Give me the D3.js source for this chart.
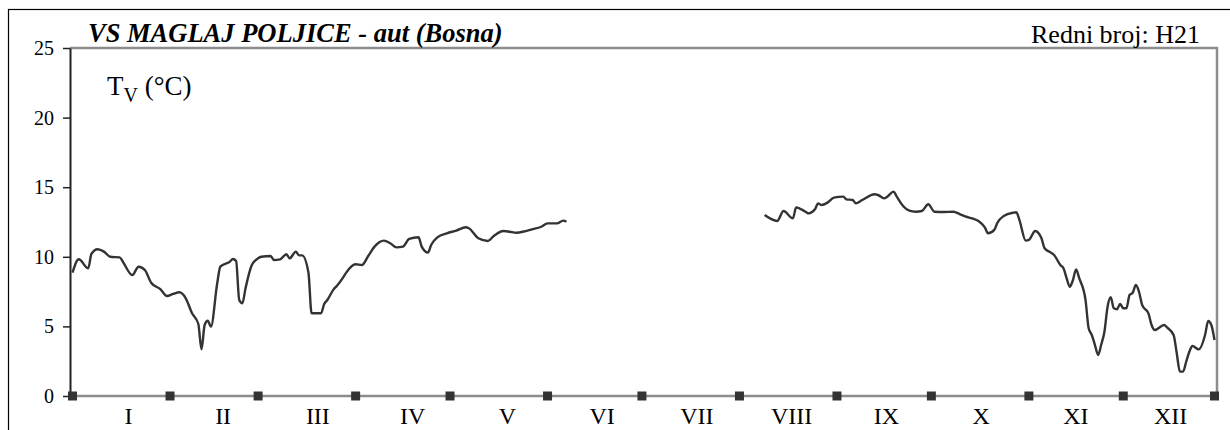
<!DOCTYPE html>
<html>
<head>
<meta charset="utf-8">
<script src="https://cdn.jsdelivr.net/npm/d3@7"></script>
<style>
  html, body { margin: 0; padding: 0; background: #fff; }
  svg { display: block; }
  text { font-family: "Liberation Serif", "Times New Roman", serif; fill: #000; }
</style>
</head>
<body>
<svg id="chart" width="1230" height="430"></svg>
<script>
// ---- data ----
const monthLabels = ["I","II","III","IV","V","VI","VII","VIII","IX","X","XI","XII"];
const monthStarts = [0, 31, 59, 90, 120, 151, 181, 212, 243, 273, 304, 334];
const axisEndDay = 363;
const yTicks = [0, 5, 10, 15, 20, 25];

// day of year (0 = 1 Jan) and mean daily water temperature (°C)
const springDays = [0,2,5,6,8,10,12,15,16,19,21,23,25,28,30,32,34,36,38,40,41,42,43,44,46,47,50,51,52,53,54,55,57,59,60,63,64,66,68,69,71,72,73,75,76,79,80,81,83,84,86,87,90,92,94,96,99,101,103,105,107,110,111,113,114,116,119,122,125,126,129,132,134,137,139,141,144,146,149,151,154,156,157];
const springTemps = [8.86,9.82,9.17,10.2,10.54,10.37,10.0,9.96,9.65,8.69,9.29,9.05,8.14,7.66,7.18,7.33,7.45,7.02,5.94,5.17,3.35,5.1,5.41,4.98,8.1,9.29,9.65,9.84,9.7,6.9,6.66,7.74,9.41,9.89,10.0,10.06,9.77,9.82,10.18,9.89,10.37,10.1,10.1,8.86,5.94,5.94,6.61,6.9,7.66,7.9,8.5,8.86,9.46,9.41,10.06,10.73,11.16,10.97,10.68,10.73,11.28,11.4,10.73,10.3,10.85,11.4,11.69,11.88,12.12,12.05,11.33,11.14,11.52,11.85,11.8,11.73,11.85,11.97,12.16,12.4,12.4,12.6,12.52];

const autumnDays = [220,222,224,226,229,230,233,234,236,237,238,240,242,245,246,248,249,251,255,256,258,259,261,262,264,266,268,270,272,274,277,280,282,284,286,288,290,291,293,294,296,299,300,301,303,304,306,308,309,311,312,314,315,316,317,318,319,320,322,323,324,325,326,327,328,329,330,331,332,333,334,335,336,337,338,339,340,342,343,344,347,348,350,351,352,353,354,355,356,358,360,361,362,363];
const autumnTemps = [13.0,12.72,12.57,13.29,12.76,13.55,13.24,13.12,13.41,13.84,13.72,13.89,14.25,14.32,14.13,14.08,13.84,14.08,14.49,14.44,14.2,14.32,14.68,14.32,13.65,13.31,13.24,13.29,13.77,13.24,13.22,13.24,13.07,12.88,12.76,12.57,12.12,11.69,11.93,12.45,12.93,13.17,13.2,12.64,11.16,11.21,11.85,11.33,10.61,10.3,10.13,9.41,9.17,8.46,7.85,8.33,9.1,8.46,6.9,4.86,4.38,3.66,2.95,3.7,4.6,6.4,7.09,6.3,6.23,6.61,6.3,6.3,7.26,7.42,7.97,7.49,6.54,5.94,5.1,4.74,5.1,4.91,4.38,3.07,1.75,1.75,2.46,3.18,3.59,3.35,4.38,5.39,5.1,4.02];

// ---- layout ----
const svg = d3.select("#chart");
const plotTop = 48, plotBottom = 396, plotLeft = 70, plotRight = 1217;

const x = d3.scaleLinear().domain([0, axisEndDay]).range([72.5, 1214.5]);
const y = d3.scaleLinear().domain([0, 25]).range([plotBottom, plotTop]);
const xMonth = d3.scaleBand().domain(monthLabels).range([81, 1218]);

// outer frame
svg.append("rect")
  .attr("x", 8.5).attr("y", 9.5).attr("width", 1300).attr("height", 500)
  .attr("fill", "none").attr("stroke", "#000").attr("stroke-width", 1.2);

// plot frame (top + right, grey)
svg.append("path")
  .attr("d", `M${plotLeft},${plotTop}H${plotRight}V${plotBottom}`)
  .attr("fill", "none").attr("stroke", "#8c8c8c").attr("stroke-width", 2.5);

// x axis line (grey)
svg.append("line")
  .attr("x1", plotLeft).attr("x2", plotRight)
  .attr("y1", plotBottom).attr("y2", plotBottom)
  .attr("stroke", "#8c8c8c").attr("stroke-width", 2.5);

// y axis
const yAxis = d3.axisLeft(y).tickValues(yTicks).tickSize(7).tickSizeOuter(0).tickPadding(9);
const yg = svg.append("g").attr("transform", `translate(${plotLeft},0)`).call(yAxis);
yg.select(".domain").attr("stroke", "#222").attr("stroke-width", 2);
yg.selectAll(".tick line").attr("stroke", "#222").attr("stroke-width", 1.5);
yg.selectAll(".tick text")
  .style("font-family", "'Liberation Serif', 'Times New Roman', serif")
  .style("font-size", "20px").attr("fill", "#000");

// month boundary markers
const markerDays = monthStarts.concat([axisEndDay]);
svg.append("g").selectAll("rect").data(markerDays).join("rect")
  .attr("x", d => x(d) - 4.5).attr("y", plotBottom - 4.5)
  .attr("width", 9).attr("height", 9).attr("fill", "#333");

// month labels
svg.append("g").selectAll("text").data(monthLabels).join("text")
  .attr("x", d => xMonth(d) + xMonth.bandwidth() / 2)
  .attr("y", 424)
  .attr("text-anchor", "middle")
  .style("font-size", "24px")
  .text(d => d);

// data lines
const line = d3.line()
  .x(d => x(d[0])).y(d => y(d[1]))
  .curve(d3.curveMonotoneX);

[[springDays, springTemps], [autumnDays, autumnTemps]].forEach(([days, temps]) => {
  svg.append("path")
    .datum(days.map((d, i) => [d, temps[i]]))
    .attr("d", line)
    .attr("fill", "none")
    .attr("stroke", "#333")
    .attr("stroke-width", 2.4)
    .attr("stroke-linejoin", "round");
});

// title
svg.append("text")
  .attr("x", 88).attr("y", 41.5)
  .style("font-size", "26.5px").style("font-weight", "bold").style("font-style", "italic")
  .text("VS MAGLAJ POLJICE - aut (Bosna)");

svg.append("text")
  .attr("x", 1200).attr("y", 43)
  .attr("text-anchor", "end")
  .style("font-size", "26px")
  .text("Redni broj: H21");

// y label T_V (°C)
const yl = svg.append("text").attr("x", 107).attr("y", 95).style("font-size", "27px");
yl.append("tspan").text("T");
yl.append("tspan").attr("dy", 6.5).style("font-size", "20px").text("V");
yl.append("tspan").attr("dy", -6.5).text(" (°C)");
</script>
</body>
</html>
